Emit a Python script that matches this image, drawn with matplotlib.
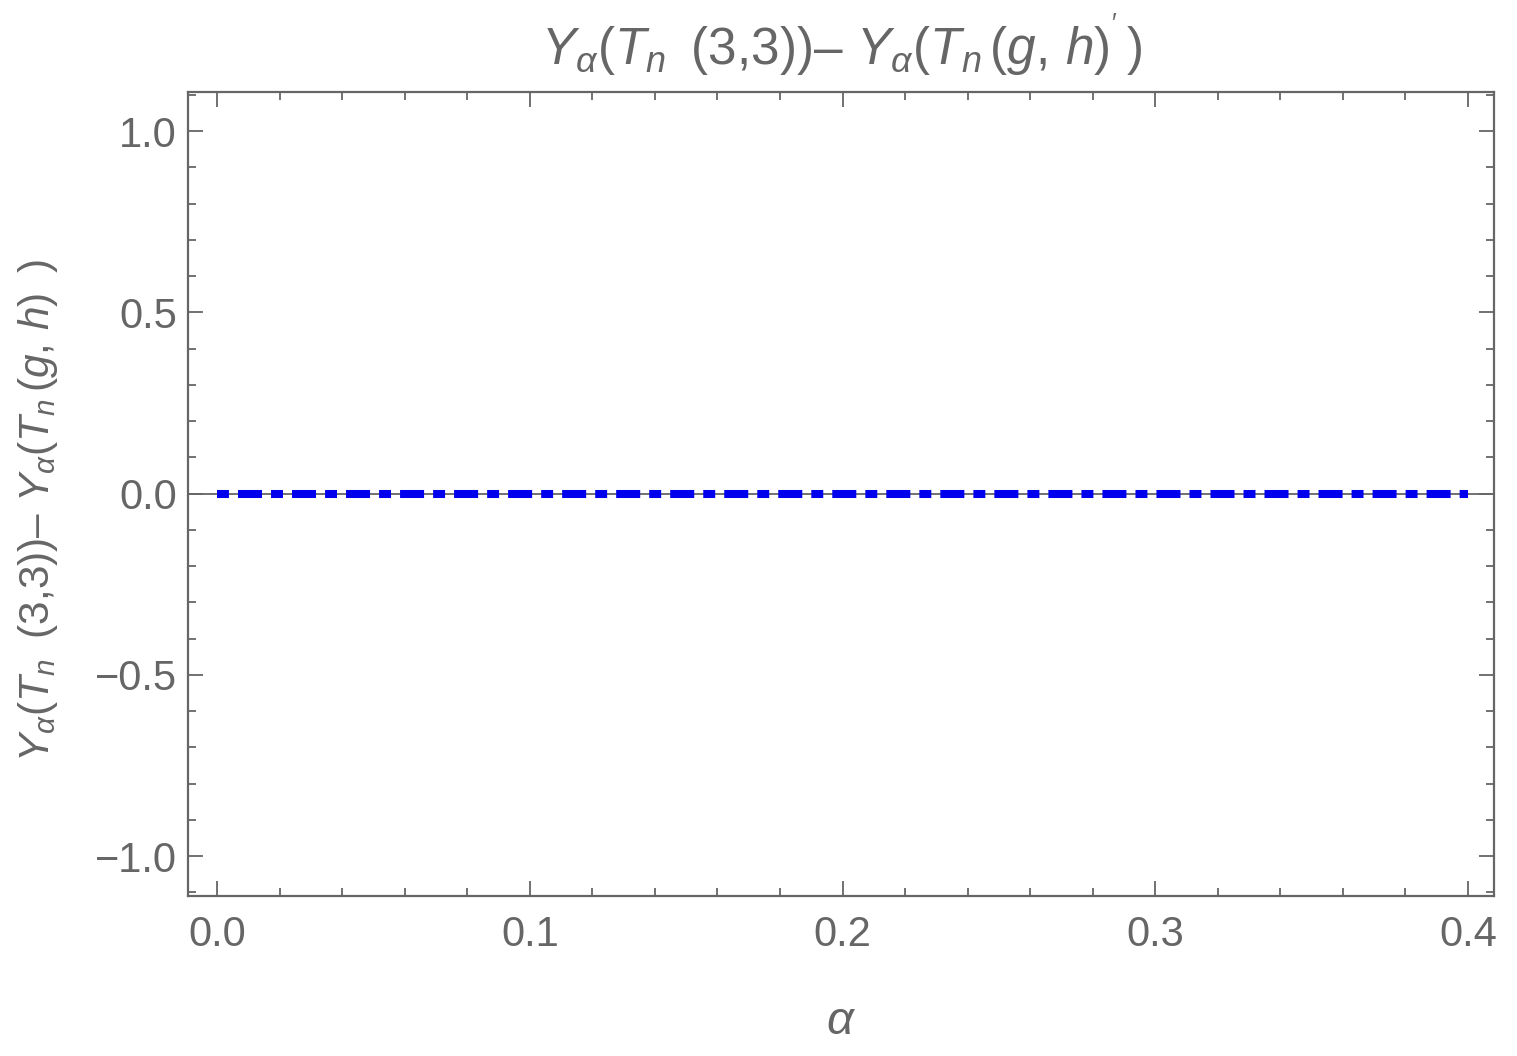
import matplotlib
matplotlib.use("Agg")
import matplotlib.pyplot as plt
from matplotlib.ticker import MultipleLocator

alpha = [0.0, 0.1, 0.2, 0.3, 0.4]
diff = [0.0, 0.0, 0.0, 0.0, 0.0]
xticks = [0.0, 0.1, 0.2, 0.3, 0.4]
yticks = [-1.0, -0.5, 0.0, 0.5, 1.0]

GRAY = "#666666"
plt.rcParams['font.family'] = ['Liberation Sans', 'DejaVu Sans']
plt.rcParams['mathtext.fontset'] = 'custom'
plt.rcParams['mathtext.rm'] = 'Liberation Sans'
plt.rcParams['mathtext.it'] = 'Liberation Sans:italic'
plt.rcParams['mathtext.bf'] = 'Liberation Sans:bold'
plt.rcParams['lines.scale_dashes'] = False

fig = plt.figure(figsize=(15.17, 10.56), dpi=100)
ax = fig.add_axes([188/1517, 1-896/1056, (1494-188)/1517, (896-92)/1056])

ax.axhline(0, color=GRAY, lw=1.3, zorder=1)
ax.plot(alpha, diff, color="#0000ee", lw=5.8, solid_capstyle='butt',
        dash_capstyle='butt', dashes=(8.6, 6.5, 17.3, 6.5), zorder=2)

ax.set_xlim(-0.0093, 0.4083)
ax.set_ylim(-1.11, 1.1076)
ax.set_xticks(xticks)
ax.set_yticks(yticks)
ax.set_xticklabels([f"{v:.1f}" for v in xticks])
ax.set_yticklabels([f"{v:.1f}".replace('-', '\u2212') for v in yticks])
ax.xaxis.set_minor_locator(MultipleLocator(0.02))
ax.yaxis.set_minor_locator(MultipleLocator(0.1))
ax.tick_params(which='both', direction='in', top=True, right=True, color=GRAY,
               labelcolor=GRAY, labelsize=30)
ax.tick_params(which='major', length=11, width=1.3)
ax.tick_params(which='minor', length=6, width=1.3)
ax.tick_params(axis='x', which='major', pad=14)
ax.tick_params(axis='y', which='major', pad=8)
for s in ax.spines.values():
    s.set_color(GRAY)
    s.set_linewidth(1.6)

ax.set_title(r"$Y_{\alpha}(T_n\;\;(3{,}3))$– $Y_{\alpha}(T_n\,(g,\,h)^{'}\,)$",
             fontsize=37, color=GRAY, pad=20)
ax.set_ylabel(r"$Y_{\alpha}(T_n\;\;(3{,}3))$– $Y_{\alpha}(T_n\,(g,\,h)\;\;)$",
              fontsize=30.5, color=GRAY)
ax.yaxis.set_label_coords(-0.098, 0.479)
ax.set_xlabel(r"$\alpha$", fontsize=34, color=GRAY, labelpad=32)

fig.savefig("out.png", dpi=100)
